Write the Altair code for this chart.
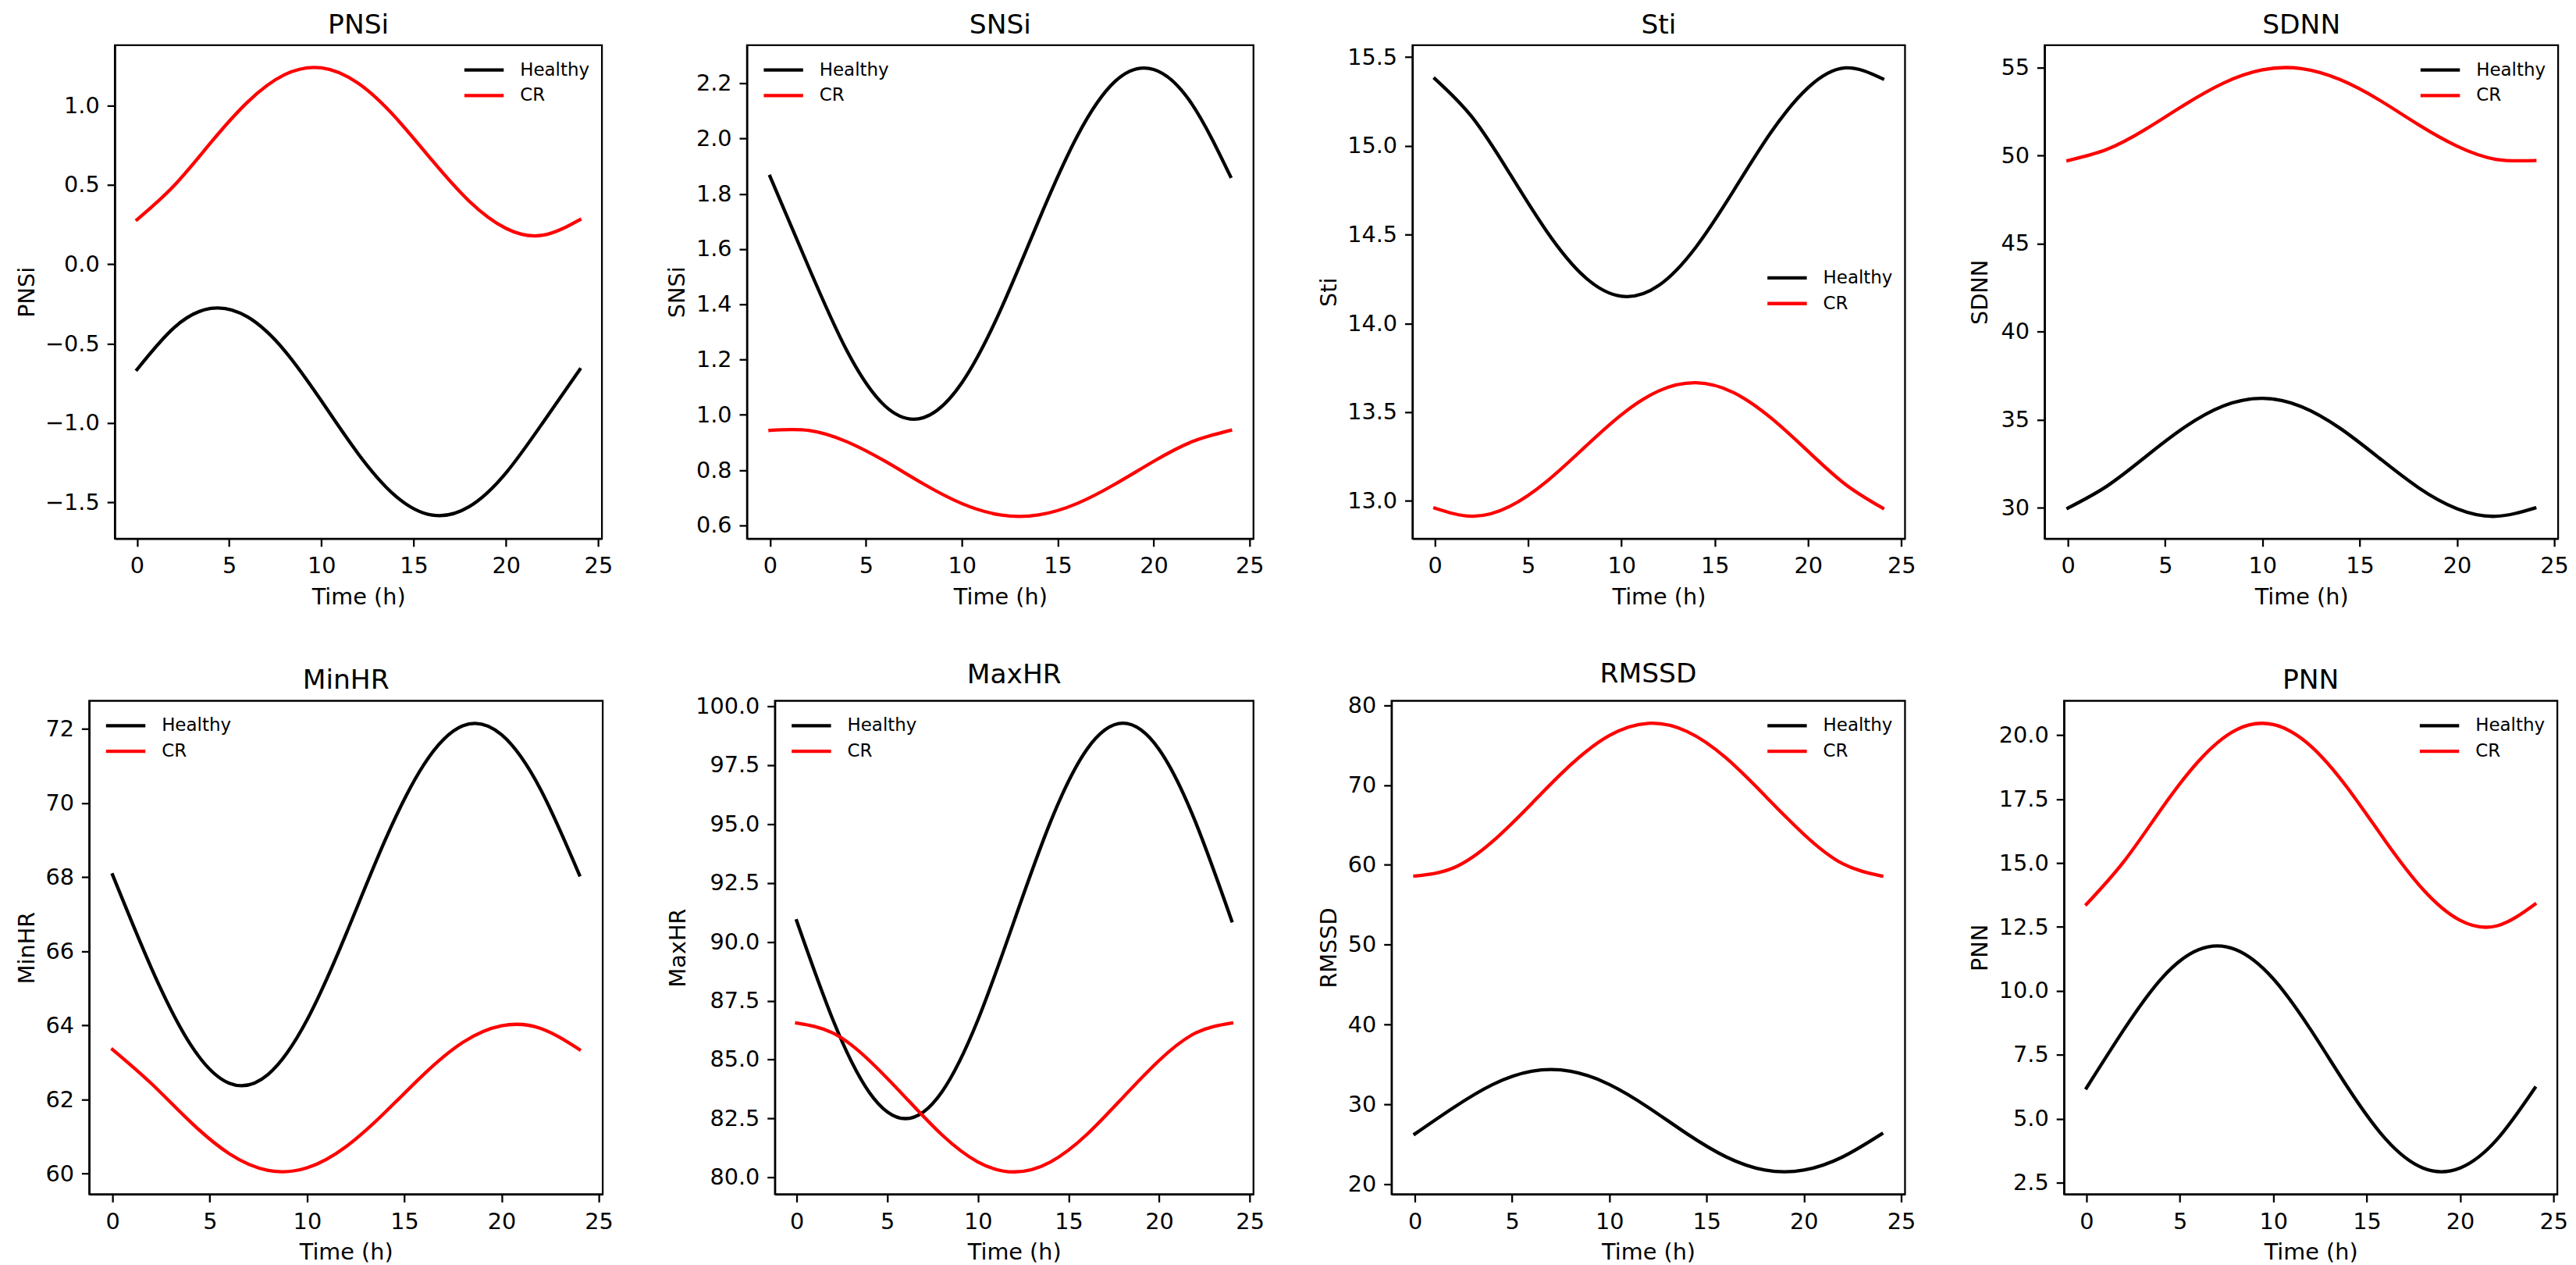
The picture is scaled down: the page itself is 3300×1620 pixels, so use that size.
import altair as alt
import pandas as pd

# ---------------- data ----------------
TIME = [0, 2, 4, 6, 8, 10, 12, 14, 16, 18, 20, 22, 24]
GROUPS = ["Healthy", "CR"]
COLORS = ["black", "red"]
X_TICKS = [0, 5, 10, 15, 20, 25]

PNSI_HEALTHY = [-0.663, -0.400, -0.278, -0.332, -0.544, -0.861, -1.195, -1.458, -1.580, -1.527, -1.314, -0.997, -0.663]
PNSI_CR = [0.281, 0.494, 0.766, 1.022, 1.194, 1.237, 1.139, 0.926, 0.654, 0.398, 0.226, 0.183, 0.281]
SNSI_HEALTHY = [1.863, 1.537, 1.233, 1.032, 0.990, 1.116, 1.377, 1.703, 2.007, 2.208, 2.250, 2.124, 1.863]
SNSI_CR = [0.944, 0.944, 0.903, 0.832, 0.750, 0.679, 0.638, 0.638, 0.679, 0.750, 0.832, 0.903, 0.944]
STI_HEALTHY = [15.378, 15.161, 14.846, 14.518, 14.265, 14.153, 14.214, 14.431, 14.746, 15.074, 15.327, 15.439, 15.378]
STI_CR = [12.960, 12.914, 12.969, 13.111, 13.300, 13.486, 13.620, 13.666, 13.611, 13.469, 13.280, 13.094, 12.960]
SDNN_HEALTHY = [29.99, 31.23, 32.91, 34.58, 35.79, 36.22, 35.75, 34.51, 32.83, 31.16, 29.95, 29.52, 29.99]
SDNN_CR = [49.72, 50.35, 51.50, 52.89, 54.12, 54.87, 54.94, 54.31, 53.16, 51.77, 50.54, 49.79, 49.72]
MINHR_HEALTHY = [68.06, 65.54, 63.49, 62.44, 62.68, 64.15, 66.46, 68.98, 71.03, 72.08, 71.84, 70.37, 68.06]
MINHR_CR = [63.35, 62.43, 61.40, 60.54, 60.09, 60.16, 60.73, 61.65, 62.68, 63.54, 63.99, 63.92, 63.35]
MAXHR_HEALTHY = [90.89, 86.69, 83.62, 82.50, 83.62, 86.69, 90.89, 95.08, 98.15, 99.27, 98.15, 95.08, 90.89]
MAXHR_CR = [86.55, 86.13, 84.97, 83.40, 81.82, 80.66, 80.24, 80.66, 81.82, 83.40, 84.97, 86.13, 86.55]
RMSSD_HEALTHY = [26.31, 29.63, 32.50, 34.16, 34.16, 32.50, 29.63, 26.31, 23.44, 21.78, 21.78, 23.44, 26.31]
RMSSD_CR = [58.61, 59.64, 62.95, 67.67, 72.51, 76.20, 77.73, 76.70, 73.39, 68.67, 63.83, 60.14, 58.61]
PNN_HEALTHY = [6.20, 8.48, 10.47, 11.61, 11.61, 10.47, 8.48, 6.20, 4.21, 3.07, 3.07, 4.21, 6.20]
PNN_CR = [13.39, 15.06, 17.11, 18.99, 20.21, 20.42, 19.58, 17.91, 15.86, 13.98, 12.76, 12.55, 13.39]

PNSI_TICKS = [-1.5, -1.0, -0.5, 0.0, 0.5, 1.0]
SNSI_TICKS = [0.6, 0.8, 1.0, 1.2, 1.4, 1.6, 1.8, 2.0, 2.2]
STI_TICKS = [13.0, 13.5, 14.0, 14.5, 15.0, 15.5]
SDNN_TICKS = [30, 35, 40, 45, 50, 55]
MINHR_TICKS = [60, 62, 64, 66, 68, 70, 72]
MAXHR_TICKS = [80.0, 82.5, 85.0, 87.5, 90.0, 92.5, 95.0, 97.5, 100.0]
RMSSD_TICKS = [20, 30, 40, 50, 60, 70, 80]
PNN_TICKS = [2.5, 5.0, 7.5, 10.0, 12.5, 15.0, 17.5, 20.0]

PANEL_H = 636


def panel(name, healthy, cr, y_domain, y_ticks, y_fmt, width, title_dist, legend_x, legend_y):
    n = len(TIME)
    df = pd.DataFrame({
        "Time": TIME + TIME,
        "Value": healthy + cr,
        "Group": ["Healthy"] * n + ["CR"] * n,
    })
    x = alt.X("Time:Q",
              scale=alt.Scale(domain=[-1.2, 25.2], nice=False, zero=False),
              axis=alt.Axis(values=X_TICKS, format="d", title="Time (h)"))
    y = alt.Y("Value:Q",
              scale=alt.Scale(domain=y_domain, nice=False, zero=False),
              axis=alt.Axis(values=y_ticks, format=y_fmt, title=name,
                            minExtent=title_dist, maxExtent=title_dist))
    color = alt.Color("Group:N",
                      scale=alt.Scale(domain=GROUPS, range=COLORS),
                      legend=alt.Legend(title=None, orient="none",
                                        legendX=legend_x, legendY=legend_y))
    layers = [
        alt.Chart(df)
        .transform_filter(alt.datum.Group == g)
        .mark_line(interpolate="natural", strokeWidth=4.33, strokeCap="square")
        .encode(x=x, y=y, color=color)
        for g in GROUPS
    ]
    return alt.layer(*layers).properties(
        width=width, height=PANEL_H,
        title=alt.TitleParams(name, fontSize=34.7, fontWeight="normal",
                              offset=16.5, dy=36, baseline="alphabetic",
                              frame="group", anchor="middle", color="black"))


def spacer():
    # invisible 1px anchor so that each row starts at its own left edge
    return (
        alt.Chart(pd.DataFrame({"s": [0]}))
        .mark_point(opacity=0, size=0)
        .encode(x=alt.value(0), y=alt.value(0))
        .properties(width=1, height=1,
                    view=alt.ViewBackground(stroke="transparent"))
    )


p1 = panel("PNSi", PNSI_HEALTHY, PNSI_CR, [-1.728, 1.380], PNSI_TICKS, ".1f", 628, 104, 456, 12)
p2 = panel("SNSi", SNSI_HEALTHY, SNSI_CR, [0.552, 2.338], SNSI_TICKS, ".1f", 653, 81, 27, 12)
p3 = panel("Sti", STI_HEALTHY, STI_CR, [12.788, 15.567], STI_TICKS, ".1f", 635, 99, 463, 280)
p4 = panel("SDNN", SDNN_HEALTHY, SDNN_CR, [28.25, 56.27], SDNN_TICKS, "d", 662, 74, 490, 12)
p5 = panel("MinHR", MINHR_HEALTHY, MINHR_CR, [59.445, 72.755], MINHR_TICKS, "d", 662, 71, 27, 12)
p6 = panel("MaxHR", MAXHR_HEALTHY, MAXHR_CR, [79.29, 100.22], MAXHR_TICKS, ".1f", 617, 116, 27, 12)
p7 = panel("RMSSD", RMSSD_HEALTHY, RMSSD_CR, [18.75, 80.55], RMSSD_TICKS, "d", 662, 72, 490, 12)
p8 = panel("PNN", PNN_HEALTHY, PNN_CR, [2.04, 21.35], PNN_TICKS, ".1f", 636, 99, 464, 12)


def row(*panels):
    inner = alt.hconcat(*panels, spacing=66).resolve_scale(
        x="independent", y="independent", color="independent")
    return alt.hconcat(spacer(), inner, spacing=0).resolve_scale(
        x="independent", y="independent", color="independent")


chart = (
    alt.vconcat(row(p1, p2, p3, p4), row(p5, p6, p7, p8), spacing=64)
    .resolve_scale(x="independent", y="independent", color="independent")
    .properties(padding={"left": 6, "top": 0, "right": 0, "bottom": 0})
    .configure(font="DejaVu Sans")
    .configure_view(stroke="black", strokeWidth=2.3)
    .configure_axis(
        grid=False,
        domainColor="black", domainWidth=2.3,
        tickColor="black", tickWidth=2.3, tickSize=10,
        labelFont="DejaVu Sans", labelFontSize=28.9, labelColor="black",
        labelFlush=False, labelOverlap=False,
        titleFont="DejaVu Sans", titleFontSize=28.9, titleColor="black",
        titleFontWeight="normal", titlePadding=0, titleBaseline="alphabetic",
    )
    .configure_axisX(labelPadding=11, minExtent=84, maxExtent=84)
    .configure_axisY(labelPadding=10)
    .configure_legend(
        symbolType="M-1.45,0H1.45", symbolSize=1225, symbolStrokeWidth=4.33,
        labelFont="DejaVu Sans", labelFontSize=23.1, labelColor="black",
        labelOffset=26.4, rowPadding=0, padding=0, labelLimit=0,
    )
)

chart.save("out.html", embed_options={"renderer": "svg", "actions": False})
